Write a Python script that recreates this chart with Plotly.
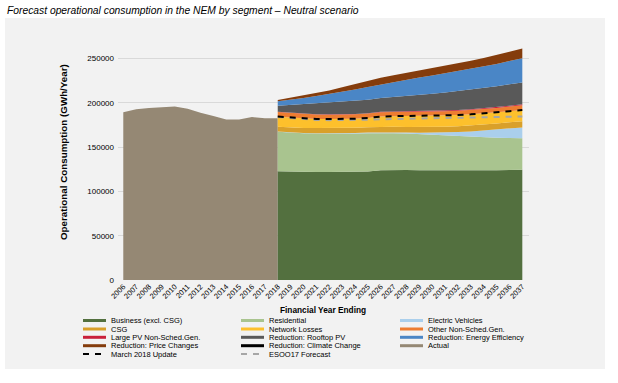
import plotly.graph_objects as go

# ---------------- data (GWh) ----------------
actual_years = list(range(2006, 2019))
actual = [189300, 192700, 194100, 194900, 196000, 193400, 188800, 185100, 181300, 181300, 184000, 182500, 182500]

fc_years = list(range(2018, 2038))
business = [122800, 122300, 122000, 122000, 122000, 122000, 122200, 122500, 123800, 124300, 124300, 124000, 123800, 123600, 123500, 123600, 123800, 124000, 124200, 124400]
residential = [44700, 44200, 43800, 43500, 43300, 43300, 43300, 43300, 42200, 41500, 41000, 40500, 40000, 39400, 38700, 37900, 37200, 36500, 36000, 35600]
electric_vehicles = [50, 100, 150, 200, 300, 400, 500, 600, 700, 900, 1200, 1700, 2500, 3500, 4800, 6200, 7800, 9200, 10800, 12300]
csg = [5500, 5600, 5700, 5800, 5900, 6000, 6000, 6100, 6200, 6300, 6300, 6400, 6400, 6500, 6600, 6700, 6800, 6900, 7000, 7000]
network_losses = [11400, 11300, 10800, 10300, 10200, 10100, 10100, 10500, 11600, 12000, 12300, 12500, 12500, 12600, 12600, 12600, 12400, 12600, 12600, 12700]
other_nsg = [5300, 5200, 5100, 5000, 5000, 5000, 5000, 5000, 4900, 4800, 4800, 4800, 4800, 4900, 4900, 5000, 5000, 5100, 5200, 5300]
large_pv_nsg = [100, 100, 200, 200, 300, 300, 400, 400, 500, 500, 600, 600, 700, 700, 800, 800, 900, 900, 1000, 1000]
red_rooftop_pv = [6800, 8800, 10600, 12000, 13000, 13800, 14500, 15000, 15500, 16200, 17200, 18400, 19600, 20600, 21500, 22300, 23000, 23600, 24100, 24600]
red_energy_eff = [5300, 5900, 7200, 8800, 10000, 11600, 13200, 14600, 15400, 17000, 18300, 19600, 20700, 21700, 22600, 23400, 24300, 25200, 26300, 27600]
red_price = [1200, 2200, 2800, 3200, 4000, 5000, 6000, 7000, 7600, 7800, 7900, 8000, 8200, 8400, 8700, 9000, 9400, 9900, 10400, 11000]
red_climate = [0] * 20
march_2018 = [184500, 183500, 182400, 181800, 181700, 181800, 182100, 183000, 184500, 185000, 185100, 185100, 185200, 185600, 186200, 187000, 188000, 189200, 190600, 192000]
esoo17 = [184000, 183000, 181500, 180700, 180500, 180500, 180500, 181000, 181500, 182000, 182300, 182500, 182700, 182900, 183100, 183300, 183600, 184000, 184300, 184600]

tick_years = list(range(2006, 2038))
tick_labels = [str(y) for y in tick_years]
y_ticks = [0, 50000, 100000, 150000, 200000, 250000]

# ---------------- styling ----------------
FONT = "Liberation Sans, Arial, sans-serif"
W, H = 618, 383
ML, MR, MT, MB = 118, 89, 32, 103
PW, PH = W - ML - MR, H - MT - MB

def px(x):
    return (x - ML) / PW

def py(y):
    return (H - MB - y) / PH

stack_series = [
    ("Business (excl. CSG)", business, "#53703f"),
    ("Residential", residential, "#a9c48f"),
    ("Electric Vehicles", electric_vehicles, "#aacfec"),
    ("CSG", csg, "#d9a02a"),
    ("Network Losses", network_losses, "#fdc02c"),
    ("Other Non-Sched.Gen.", other_nsg, "#ed7d31"),
    ("Large PV Non-Sched.Gen.", large_pv_nsg, "#c9203a"),
    ("Reduction: Rooftop PV", red_rooftop_pv, "#595959"),
    ("Reduction: Energy Efficiency", red_energy_eff, "#4a86c6"),
    ("Reduction: Price Changes", red_price, "#843c0c"),
    ("Reduction: Climate Change", red_climate, "#000000"),
]
ACTUAL_C = "#958874"

fig = go.Figure()

fig.add_trace(go.Scatter(x=actual_years, y=actual, name="Actual", mode="lines",
                         line=dict(width=0, color=ACTUAL_C), fill="tozeroy",
                         fillcolor=ACTUAL_C, showlegend=False))

for name, vals, col in stack_series:
    fig.add_trace(go.Scatter(x=fc_years, y=vals, name=name, mode="lines",
                             stackgroup="fc", line=dict(width=0, color=col),
                             fillcolor=col, showlegend=False))

fig.add_trace(go.Scatter(x=fc_years, y=esoo17, name="ESOO17 Forecast", mode="lines",
                         line=dict(color="#a6a6a6", width=2, dash="6px,6px"), showlegend=False))
fig.add_trace(go.Scatter(x=fc_years, y=march_2018, name="March 2018 Update", mode="lines",
                         line=dict(color="#000000", width=2, dash="6px,6px"), showlegend=False))

shapes = [dict(type="rect", xref="paper", yref="paper", x0=px(5), x1=px(605),
               y0=py(369), y1=py(18), fillcolor="#f2f2f2", line=dict(width=0), layer="below")]
annotations = []

# title
annotations.append(dict(text="<i>Forecast operational consumption in the NEM by segment \u2013 Neutral scenario</i>",
                        xref="paper", yref="paper", x=px(5), y=py(11), xanchor="left", yanchor="middle",
                        showarrow=False, font=dict(family=FONT, size=10.3, color="#000000")))
# axis titles
annotations.append(dict(text="<b>Operational Consumption (GWh/Year)</b>", textangle=-90,
                        xref="paper", yref="paper", x=px(63), y=py(152), xanchor="center", yanchor="middle",
                        showarrow=False, font=dict(family=FONT, size=9.8, color="#000000")))
annotations.append(dict(text="<b>Financial Year Ending</b>",
                        xref="paper", yref="paper", x=px(323), y=py(310), xanchor="center", yanchor="middle",
                        showarrow=False, font=dict(family=FONT, size=8.3, color="#000000")))

# manual legend (3 columns, row-major)
legend_items = [(n, c, "solid") for n, _, c in stack_series] + [("Actual", ACTUAL_C, "solid"),
                ("March 2018 Update", "#000000", "dash"), ("ESOO17 Forecast", "#a6a6a6", "dash")]
col_x = [83, 241, 400]
row_y = [320.5, 329, 337.3, 345.7, 354]
for i, (name, col, style) in enumerate(legend_items):
    r, c = divmod(i, 3)
    x0 = col_x[c]
    y = row_y[r]
    if style == "solid":
        shapes.append(dict(type="line", xref="paper", yref="paper", x0=px(x0), x1=px(x0 + 23),
                           y0=py(y), y1=py(y), line=dict(color=col, width=3)))
    else:
        shapes.append(dict(type="line", xref="paper", yref="paper", x0=px(x0), x1=px(x0 + 23),
                           y0=py(y), y1=py(y), line=dict(color=col, width=2, dash="6px,6px")))
    annotations.append(dict(text=name, xref="paper", yref="paper", x=px(x0 + 26), y=py(y),
                            xanchor="left", yanchor="middle", showarrow=False,
                            font=dict(family=FONT, size=7.5, color="#000000")))

fig.update_layout(
    width=W, height=H,
    margin=dict(l=ML, r=MR, t=MT, b=MB, autoexpand=False),
    paper_bgcolor="#ffffff", plot_bgcolor="rgba(0,0,0,0)",
    font=dict(family=FONT, size=7.5, color="#000000"),
    showlegend=False,
    shapes=shapes, annotations=annotations,
    xaxis=dict(range=[2005.59, 2037.52], tickmode="array", tickvals=tick_years, ticktext=tick_labels,
               tickangle=-45, showgrid=False, zeroline=False, showline=False, ticks="",
               tickfont=dict(family=FONT, size=7.5), automargin=False),
    yaxis=dict(range=[0, 280000], tickmode="array", tickvals=y_ticks, tickformat="d",
               showgrid=True, gridcolor="#d9d9d9", gridwidth=1, zeroline=False, showline=False,
               ticks="", ticklabelstandoff=3, tickfont=dict(family=FONT, size=8),
               automargin=False, layer="below traces"),
)

fig.write_html("out.html", config={"displayModeBar": False},
               post_script="document.body.style.margin='0';")
